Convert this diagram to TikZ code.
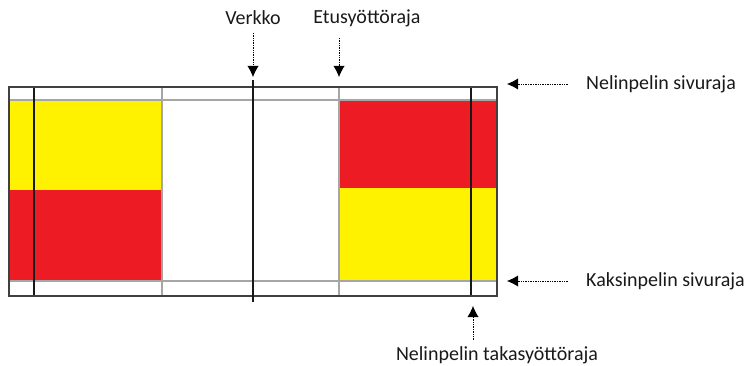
\documentclass[tikz,border=0pt]{standalone}
\usepackage{fontspec}
\setmainfont{Carlito}
\usetikzlibrary{arrows.meta}
\usetikzlibrary{positioning}
\definecolor{courtyellow}{RGB}{255,242,0}
\definecolor{courtred}{RGB}{237,28,36}
\tikzset{
    courtedge/.style={draw=black!75, line width=.5mm},
    courtline/.style={draw=black!35, line width=.4mm},
    boldline/.style={draw=black!90, line width=.45mm},
    pointer/.style={draw=black, densely dotted, line width=.25mm,
        -{Latex[length=11pt,width=11pt,line width=0pt]}},
    caption/.style={font=\fontsize{20}{24}\selectfont, text=black!90, inner sep=1pt},
}
\begin{document}
\begin{tikzpicture}[x=1pt, y=-1pt]
		\useasboundingbox (0,0) rectangle (746,366);
		% service boxes
		\fill[courtyellow] (9,100) rectangle (162,190);
		\fill[courtred] (9,190) rectangle (162,281);
		\fill[courtred] (339,100) rectangle (497,188);
		\fill[courtyellow] (339,188) rectangle (497,281);
		% thin court lines
		\draw[courtline] (9,100) -- (497,100);
		\draw[courtline] (9,281) -- (497,281);
		\draw[courtline] (162,87) -- (162,296);
		\draw[courtline] (339,87) -- (339,296);
		% outer lines and net
		\draw[boldline] (34,87) -- (34,296);
		\draw[boldline] (471,87) -- (471,296);
		\draw[courtedge] (9,87) rectangle (497,296);
		\draw[boldline] (253,80) -- (253,302);
		% labels
		\node[caption] (verkko) at (253,18) {Verkko};
		\node[caption] (etus) at (367,18) {Etusyöttöraja};
		\node[caption, anchor=west] (nelisivu) at (585,84) {Nelinpelin sivuraja};
		\node[caption, anchor=west] (kaksisivu) at (585,281) {Kaksinpelin sivuraja};
		\node[caption] (takaraja) at (497,355) {Nelinpelin takasyöttöraja};
		% pointer ends
		\coordinate (verkkotail) at (253,33);
		\coordinate (verkkotip) at (253,77);
		\coordinate (etustail) at (339,38);
		\coordinate (etustip) at (339,77);
		\coordinate (nelitail) at (568,84);
		\coordinate (nelitip) at (507,84);
		\coordinate (kaksitail) at (568,281);
		\coordinate (kaksitip) at (507,281);
		\coordinate (takatail) at (473,340);
		\coordinate (takatip) at (473,306);
		\draw[pointer] (verkkotail) -- (verkkotip);
		\draw[pointer] (etustail) -- (etustip);
		\draw[pointer] (nelitail) -- (nelitip);
		\draw[pointer] (kaksitail) -- (kaksitip);
		\draw[pointer] (takatail) -- (takatip);
\end{tikzpicture}
\end{document}
